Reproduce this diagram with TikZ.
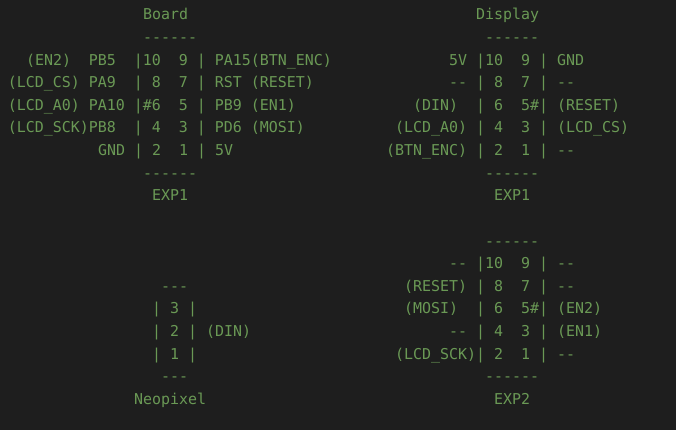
\documentclass[tikz,border=0pt]{standalone}
\usepackage{fontspec}
\setmonofont{DejaVu Sans Mono}
\usepackage{tikz}
\definecolor{bgDark}{HTML}{1E1E1E}
\definecolor{codeGreen}{HTML}{6A9955}

\begin{document}
\begin{tikzpicture}[x=1pt,y=-1pt,
    txt/.style={anchor=base west,inner sep=0pt,outer sep=0pt,text=codeGreen,
      font=\ttfamily\fontsize{14.95}{18}\selectfont}]

      \def\xo{8}     % left edge of column 0
      \def\cw{9}     % width of one character
      \def\yo{20}    % baseline of line 0
      \def\lh{22.6}  % line pitch

      % background, fixes the size of the page
      \fill[bgDark] (0,0) rectangle (676,430);
      \useasboundingbox (0,0) rectangle (676,430);

      % column/line/text of each header
      \def\board{
        15/0/{Board},
        15/1/{------},
        2/2/{(EN2)~~PB5~~|10~~9~|~PA15(BTN\_ENC)},
        0/3/{(LCD\_CS)~PA9~~|~8~~7~|~RST~(RESET)},
        0/4/{(LCD\_A0)~PA10~|\#6~~5~|~PB9~(EN1)},
        0/5/{(LCD\_SCK)PB8~~|~4~~3~|~PD6~(MOSI)},
        10/6/{GND~|~2~~1~|~5V},
        15/7/{------},
        16/8/{EXP1}
      }
      \def\display{
        52/0/{Display},
        53/1/{------},
        49/2/{5V~|10~~9~|~GND},
        49/3/{--~|~8~~7~|~--},
        45/4/{(DIN)~~|~6~~5\#|~(RESET)},
        43/5/{(LCD\_A0)~|~4~~3~|~(LCD\_CS)},
        42/6/{(BTN\_ENC)~|~2~~1~|~--},
        53/7/{------},
        54/8/{EXP1}
      }
      \def\neopixel{
        17/12/{---},
        16/13/{|~3~|},
        16/14/{|~2~|~(DIN)},
        16/15/{|~1~|},
        17/16/{---},
        14/17/{Neopixel}
      }
      \def\exptwo{
        53/10/{------},
        49/11/{--~|10~~9~|~--},
        44/12/{(RESET)~|~8~~7~|~--},
        44/13/{(MOSI)~~|~6~~5\#|~(EN2)},
        49/14/{--~|~4~~3~|~(EN1)},
        43/15/{(LCD\_SCK)|~2~~1~|~--},
        53/16/{------},
        54/17/{EXP2}
      }

      % draw the lines of each header
      \foreach \c/\l/\t [count=\ni] in \board
        \node[txt] (board-\ni) at ({\xo+\c*\cw},{\yo+\l*\lh}) {\t};
      \foreach \c/\l/\t [count=\ni] in \display
        \node[txt] (disp-\ni) at ({\xo+\c*\cw},{\yo+\l*\lh}) {\t};
      \foreach \c/\l/\t [count=\ni] in \neopixel
        \node[txt] (neo-\ni) at ({\xo+\c*\cw},{\yo+\l*\lh}) {\t};
      \foreach \c/\l/\t [count=\ni] in \exptwo
        \node[txt] (exp-\ni) at ({\xo+\c*\cw},{\yo+\l*\lh}) {\t};

\end{tikzpicture}
\end{document}
